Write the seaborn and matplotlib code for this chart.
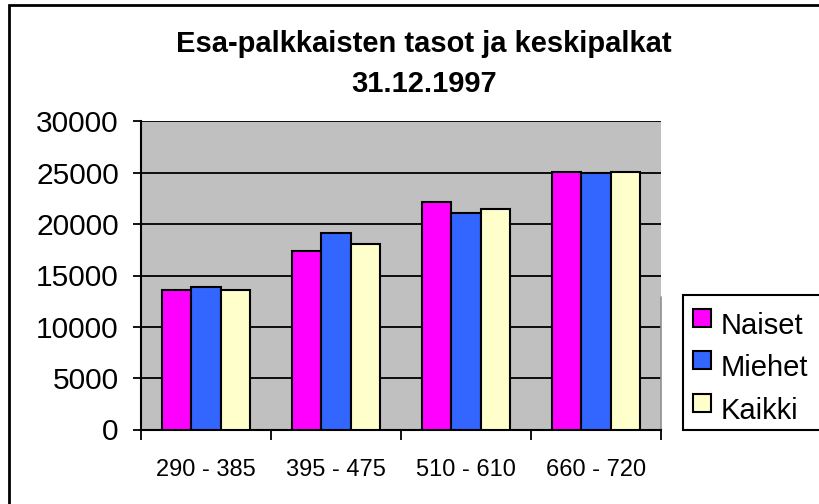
import numpy as np
import pandas as pd
import matplotlib
matplotlib.use("Agg")
import matplotlib.pyplot as plt
import matplotlib.patches as mpatches
from matplotlib.legend_handler import HandlerPatch
import seaborn as sns

# palkkaluokat ja keskipalkat (mk/kk), luettu kuvasta
ranges = ["290 - 385", "395 - 475", "510 - 610", "660 - 720"]
groups = ["Naiset", "Miehet", "Kaikki"]
naiset = [13600, 17350, 22200, 25100]
miehet = [13850, 19100, 21050, 24950]
kaikki = [13600, 18100, 21450, 25050]
colors = ["#FF00FF", "#3366FF", "#FFFFCC"]
yticks = [0, 5000, 10000, 15000, 20000, 25000, 30000]

df = pd.DataFrame({
    "luokka": ranges * 3,
    "ryhma": np.repeat(groups, len(ranges)),
    "palkka": naiset + miehet + kaikki,
})

sns.set_style("white")
plt.rcParams["font.family"] = ["Liberation Sans", "DejaVu Sans"]
plt.rcParams["text.color"] = "black"
plt.rcParams["xtick.color"] = "black"
plt.rcParams["ytick.color"] = "black"

W, H = 819, 504
fig = plt.figure(figsize=(W / 100, H / 100), dpi=100)
ax = fig.add_axes([141 / W, 1 - 429.5 / H, 520 / W, 308 / H])
ax.set_facecolor("#C0C0C0")

sns.barplot(data=df, x="luokka", y="palkka", hue="ryhma", palette=colors,
            saturation=1, width=0.67, edgecolor="black", linewidth=1.5,
            errorbar=None, ax=ax, zorder=3)

ax.set_ylim(0, 30000)
ax.set_xlim(-0.5, len(ranges) - 0.5)
ax.set_yticks(yticks)
ax.set_yticklabels([str(v) for v in yticks], fontsize=21.5)
ax.yaxis.grid(True, color="black", linewidth=1.3, zorder=0)
ax.set_axisbelow(True)

# tick marks at category boundaries, labels in the middle
ax.set_xticks(np.arange(len(ranges) + 1) - 0.5, labels=[""] * (len(ranges) + 1))
ax.set_xticks(np.arange(len(ranges)), labels=ranges, minor=True)
ax.tick_params(axis="x", which="major", direction="out", length=7.5, width=1.3,
               color="black", bottom=True)
ax.tick_params(axis="x", which="minor", length=0, pad=21, labelsize=17,
               labelcolor="black")
ax.tick_params(axis="y", direction="out", length=6, width=1.3, color="black",
               left=True, pad=10, labelcolor="black")
ax.set_xlabel("")
ax.set_ylabel("")

for s in ["top", "right"]:
    ax.spines[s].set_visible(False)
for s in ["left", "bottom"]:
    ax.spines[s].set_color("black")
    ax.spines[s].set_linewidth(1.5)

# thin grey edge on the right side of the plot area, below the legend top
ax.axvline(len(ranges) - 0.5, ymin=0, ymax=0.43, color="#909090", linewidth=1.2,
           clip_on=False)


def square_handle(legend, orig_handle, xdescent, ydescent, width, height, fontsize):
    # small square sitting a bit above the text baseline
    return mpatches.Rectangle((-xdescent, 5), 13, 13)


ax.get_legend().remove()
handles = [mpatches.Patch(facecolor=c, edgecolor="black", linewidth=1.5) for c in colors]
leg = fig.legend(handles, groups, loc="upper left",
                 bbox_to_anchor=(693 / W, 1 - 310.5 / H), frameon=False,
                 fontsize=21, borderpad=0, labelspacing=0.465,
                 handlelength=0.62, handleheight=1.0, handletextpad=0.32,
                 borderaxespad=0,
                 handler_map={mpatches.Patch: HandlerPatch(patch_func=square_handle)})

# legend frame (runs off the right edge like in the original)
fig.patches.append(mpatches.Rectangle((683 / W, 1 - 429.5 / H), 0.3, 134.5 / H,
                                      facecolor="white", edgecolor="black",
                                      linewidth=1.5, transform=fig.transFigure,
                                      figure=fig, zorder=2))

fig.text(424 / W, 1 - 52 / H, "Esa-palkkaisten tasot ja keskipalkat",
         ha="center", va="baseline", fontsize=21, fontweight="bold")
fig.text(424 / W, 1 - 92 / H, "31.12.1997",
         ha="center", va="baseline", fontsize=21, fontweight="bold")

# chart area frame (runs off the right and bottom edge)
fig.patches.append(mpatches.Rectangle((9 / W, -0.2), 1.3, 1.2 - 5 / H, fill=False,
                                      edgecolor="black", linewidth=2,
                                      transform=fig.transFigure, figure=fig))

fig.savefig("out.png", dpi=100)
